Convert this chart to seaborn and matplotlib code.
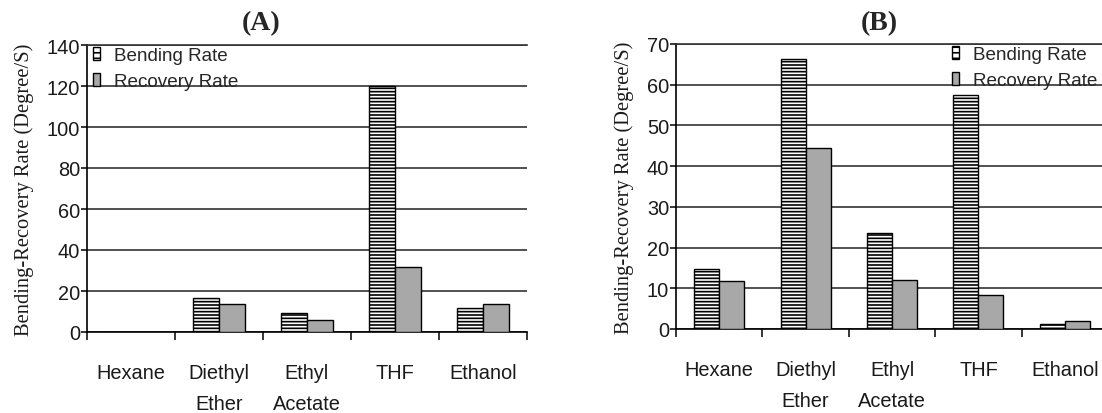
import numpy as np
import pandas as pd
import matplotlib
matplotlib.use("Agg")
import matplotlib.pyplot as plt
from matplotlib.patches import Patch
import seaborn as sns

# ---- data ----
solvents = ["Hexane", "Diethyl\nEther", "Ethyl\nAcetate", "THF", "Ethanol"]
series_names = ["Bending Rate", "Recovery Rate"]
bending_A = [0, 16.6, 9.4, 120, 11.9]
recovery_A = [0, 13.8, 6.0, 31.7, 13.8]
bending_B = [14.8, 66.4, 23.5, 57.5, 1.3]
recovery_B = [11.8, 44.4, 12.1, 8.3, 2.0]
yticks_A = [0, 20, 40, 60, 80, 100, 120, 140]
yticks_B = [0, 10, 20, 30, 40, 50, 60, 70]
ylabel = "Bending-Recovery Rate (Degree/S)"

sns.set_style("white")
plt.rcParams["font.family"] = ["Liberation Sans", "DejaVu Sans"]
plt.rcParams["hatch.linewidth"] = 1.2

W, H = 1102, 414
fig = plt.figure(figsize=(W / 100, H / 100), dpi=100)

GRAY = "#a8a8a8"
HATCH = "-----"
GRID = "#333333"


def make_df(b, r):
    return pd.DataFrame({
        "Solvent": solvents * 2,
        "Series": [series_names[0]] * len(solvents) + [series_names[1]] * len(solvents),
        "Rate": list(b) + list(r),
    })


def panel(rect, b, r, yticks, title, title_x, leg_x):
    ax = fig.add_axes(rect)
    df = make_df(b, r)
    sns.barplot(data=df, x="Solvent", y="Rate", hue="Series",
                palette=["white", GRAY], edgecolor="black", linewidth=1.0,
                width=0.58, ax=ax, legend=False, zorder=3)
    for p in ax.containers[0]:
        p.set_hatch(HATCH)
        p.set_edgecolor("black")
    ax.set_ylim(yticks[0], yticks[-1])
    ax.set_yticks(yticks)
    ax.set_xlim(-0.5, len(solvents) - 0.5)
    ax.set_xticks(np.arange(-0.5, len(solvents), 1.0))
    ax.set_xticklabels([])
    ax.set_xticks(np.arange(len(solvents)), minor=True)
    ax.set_xticklabels(solvents, minor=True, linespacing=1.85)
    ax.tick_params(axis="x", which="major", direction="out", length=6, width=1.1,
                   color="black", bottom=True)
    ax.tick_params(axis="x", which="minor", length=0, pad=22, labelsize=14.4,
                   labelcolor="#1a1a1a")
    ax.tick_params(axis="y", direction="out", length=4, width=1.1, color="black",
                   left=True, pad=1, labelsize=14.4, labelcolor="#1a1a1a")
    ax.set_xlabel("")
    ax.set_ylabel(ylabel, family=["Liberation Serif", "DejaVu Serif"], fontsize=14.8,
                  color="#1a1a1a", labelpad=9)
    ax.yaxis.grid(True, color=GRID, linewidth=1.2, zorder=0)
    ax.set_axisbelow(True)
    ax.spines["right"].set_visible(False)
    ax.spines["top"].set_color(GRID)
    ax.spines["top"].set_linewidth(1.2)
    for s in ["left", "bottom"]:
        ax.spines[s].set_color("black")
        ax.spines[s].set_linewidth(1.2)
    handles = [Patch(facecolor="white", edgecolor="black", hatch="---", linewidth=1.0),
               Patch(facecolor=GRAY, edgecolor="black", linewidth=1.0)]
    ax.legend(handles, series_names, loc="upper left", bbox_to_anchor=(leg_x, 0.993),
              frameon=False, fontsize=13.6, handlelength=0.38, handleheight=0.7,
              handletextpad=0.75, labelspacing=0.46, borderpad=0, borderaxespad=0)
    fig.text(title_x / W, 1 - 24 / H, title, ha="center", va="center",
             family=["Liberation Serif", "DejaVu Serif"], fontweight="bold", fontsize=20)
    return ax


axA = panel([87 / W, (H - 333) / H, 440 / W, 287 / H], bending_A, recovery_A,
            yticks_A, "(A)", 261, 6 / 440)
axB = panel([676 / W, (H - 330) / H, 432 / W, 285 / H], bending_B, recovery_B,
            yticks_B, "(B)", 879, 276 / 432)

fig.savefig("out.png", dpi=100)
